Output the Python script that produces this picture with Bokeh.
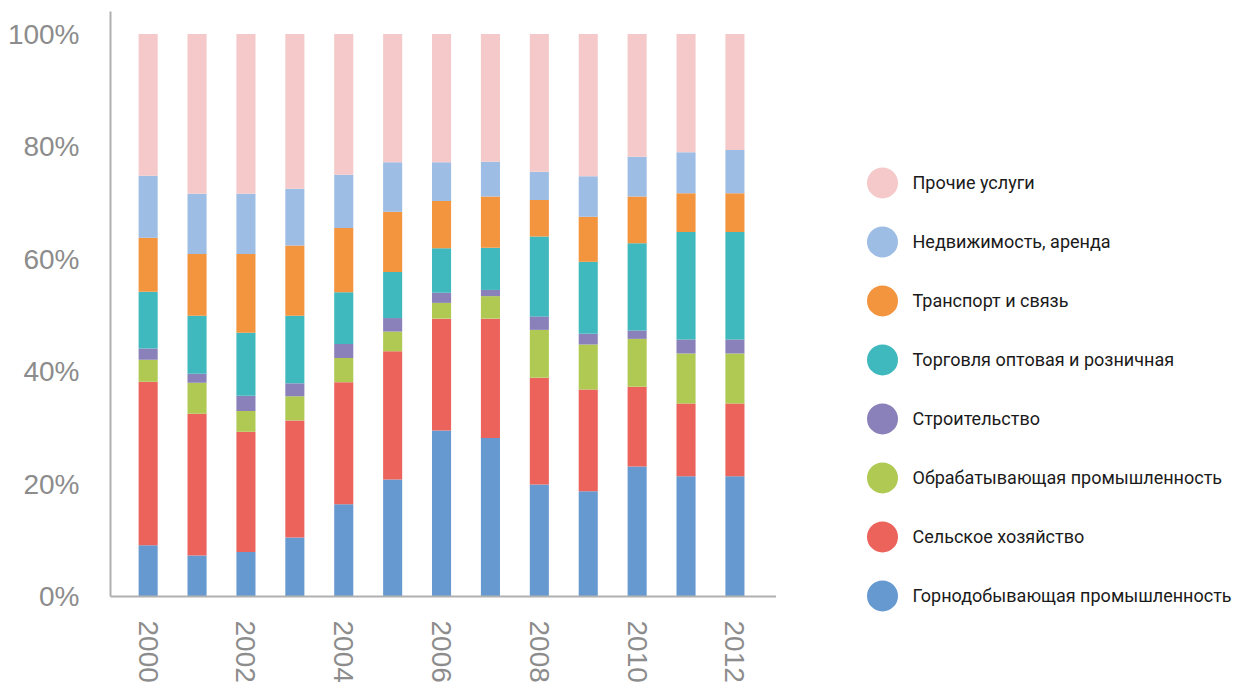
from bokeh.plotting import figure
from bokeh.models import ColumnDataSource, Range1d, FixedTicker, PrintfTickFormatter
from bokeh.layouts import row
from bokeh.core.properties import value
from bokeh.embed import file_html
from bokeh.resources import INLINE

years = [2000, 2001, 2002, 2003, 2004, 2005, 2006, 2007, 2008, 2009, 2010, 2011, 2012]
year_ticks = ["2000", "2002", "2004", "2006", "2008", "2010", "2012"]

series_names = [
    "Горнодобывающая промышленность",
    "Сельское хозяйство",
    "Обрабатывающая промышленность",
    "Строительство",
    "Торговля оптовая и розничная",
    "Транспорт и связь",
    "Недвижимость, аренда",
    "Прочие услуги",
]
colors = ["#6799D1", "#EC635C", "#AFC953", "#8A80BA", "#3FB8BE", "#F3943F", "#9DBDE5", "#F5C9C9"]

mining        = [9.1, 7.3, 7.9, 10.5, 16.4, 20.8, 29.5, 28.2, 19.9, 18.7, 23.1, 21.4, 21.4]
agriculture   = [29.1, 25.2, 21.4, 20.8, 21.7, 22.8, 19.9, 21.2, 19.0, 18.1, 14.2, 12.9, 12.9]
manufacturing = [3.9, 5.5, 3.7, 4.3, 4.3, 3.5, 2.8, 4.0, 8.5, 8.0, 8.5, 8.9, 8.9]
construction  = [2.0, 1.6, 2.7, 2.3, 2.5, 2.4, 1.8, 1.1, 2.4, 1.9, 1.5, 2.5, 2.5]
trade         = [10.1, 10.3, 11.2, 12.0, 9.2, 8.2, 7.9, 7.5, 14.2, 12.8, 15.5, 19.1, 19.1]
transport     = [9.6, 11.0, 14.0, 12.5, 11.4, 10.7, 8.4, 9.1, 6.5, 8.0, 8.3, 6.9, 6.9]
real_estate   = [11.0, 10.7, 10.7, 10.1, 9.5, 8.8, 6.9, 6.2, 5.0, 7.2, 7.1, 7.3, 7.7]
other         = [25.2, 28.4, 28.4, 27.5, 25.0, 22.8, 22.8, 22.7, 24.5, 25.3, 21.8, 21.0, 20.6]

keys = ["mining", "agriculture", "manufacturing", "construction", "trade", "transport", "real_estate", "other"]
data = dict(x=list(range(len(years))), mining=mining, agriculture=agriculture,
            manufacturing=manufacturing, construction=construction, trade=trade,
            transport=transport, real_estate=real_estate, other=other)
src = ColumnDataSource(data)

p = figure(output_backend="svg", toolbar_location=None,
           frame_width=666, frame_height=585,
           min_border_left=110, min_border_top=11, min_border_bottom=84, min_border_right=0,
           x_range=Range1d(-0.77, 12.85), y_range=Range1d(0, 104))
p.vbar_stack(keys, x="x", width=0.39, color=colors, line_color=None, source=src)

p.outline_line_color = None
p.grid.grid_line_color = None

p.yaxis.ticker = FixedTicker(ticks=[0, 20, 40, 60, 80, 100])
p.yaxis.formatter = PrintfTickFormatter(format="%d%%")
p.yaxis.major_label_text_font = "Liberation Sans"
p.yaxis.major_label_text_font_size = "28px"
p.yaxis.major_label_text_color = "#8c8c8c"
p.yaxis.major_label_standoff = 25
p.yaxis.major_tick_line_color = None
p.yaxis.minor_tick_line_color = None
p.yaxis.axis_line_color = "#b0b0b0"
p.yaxis.axis_line_width = 2

tick_pos = [years.index(int(t)) for t in year_ticks]
p.xaxis.ticker = FixedTicker(ticks=tick_pos)
p.xaxis.major_label_overrides = {pos: lab for pos, lab in zip(tick_pos, year_ticks)}
p.xaxis.major_label_orientation = "vertical"
p.xaxis.major_label_text_font = "Liberation Sans"
p.xaxis.major_label_text_font_size = "28px"
p.xaxis.major_label_text_color = "#8c8c8c"
p.xaxis.major_label_standoff = 18
p.xaxis.major_tick_line_color = None
p.xaxis.minor_tick_line_color = None
p.xaxis.axis_line_color = "#b0b0b0"
p.xaxis.axis_line_width = 2

# legend panel
leg = figure(output_backend="svg", toolbar_location=None,
             frame_width=462, frame_height=674, min_border=0,
             x_range=Range1d(0, 462), y_range=Range1d(674, 0), align="start")
leg.outline_line_color = None
leg.grid.grid_line_color = None
leg.axis.visible = False
order = list(range(len(series_names)))[::-1]
lsrc = ColumnDataSource(dict(
    name=[series_names[i] for i in order],
    color=[colors[i] for i in order],
    y=[171.4 + 59 * k for k in range(len(order))],
    cx=[106] * len(order),
    tx=[136] * len(order),
))
leg.scatter(x="cx", y="y", size=31, marker="circle", fill_color="color", line_color=None, source=lsrc)
leg.text(x="tx", y="y", text="name", source=lsrc, text_baseline="middle", text_align="left",
         text_font=value("Roboto"), text_font_size="18px", text_color="#1a1a1a")

layout = row(p, leg)
open("out.html", "w").write(file_html(layout, INLINE))
